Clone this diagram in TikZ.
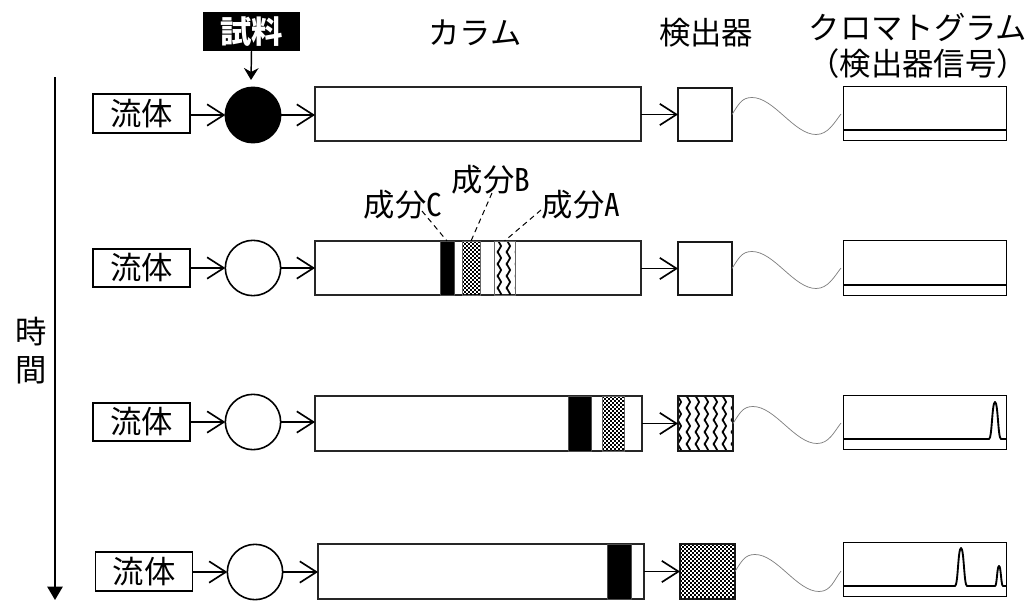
\documentclass[tikz,border=0pt]{standalone}
\usepackage{fontspec}
\usetikzlibrary{arrows.meta,patterns}
\newfontfamily\jp{Noto Sans CJK JP}
\newfontfamily\jphw[RawFeature=+hwid]{Noto Sans CJK JP}
\pgfdeclarepatternformonly{zig}{\pgfqpoint{-1pt}{-1pt}}{\pgfqpoint{7.75pt}{10pt}}{\pgfqpoint{6.75pt}{9pt}}{%
  \pgfsetlinewidth{1.3pt}%
  \pgfpathmoveto{\pgfqpoint{2pt}{-1pt}}%
  \pgfpathlineto{\pgfqpoint{2pt}{0pt}}%
  \pgfpathlineto{\pgfqpoint{4.6pt}{4.5pt}}%
  \pgfpathlineto{\pgfqpoint{2pt}{9pt}}%
  \pgfpathlineto{\pgfqpoint{2pt}{10pt}}%
  \pgfusepath{stroke}}
\newcommand{\rnode}[6]{% name,x1,y1,x2,y2,style
  \node[#6,minimum width={(#4-#2)*0.75pt},minimum height={(#5-#3)*0.75pt}] (#1) at ({(#2+#4)/2},{(#3+#5)/2}) {};}
\newcommand{\checker}[4]{% x1,y1,x2,y2: rows of two-pixel squares
  \begin{scope}
    \clip (#1,#2) rectangle (#3,#4);
    \foreach \rw in {0,...,28}{
      \pgfmathsetmacro{\ry}{#2+1+2*\rw}
      \pgfmathsetmacro{\ph}{mod(\rw,2)*1.5}
      \draw[line width=1.5pt,black,dash pattern=on 1.5pt off 1.5pt,dash phase=\ph pt] (#1,\ry) -- (#3,\ry);
    }
  \end{scope}}
\newcommand{\wavepath}[2]{%
  \draw[wave] (#1.east) .. controls +(7,-11) and +(-10,0) .. ++(20,-17)
    .. controls +(22,0) and +(-22,0) .. ++(64,37)
    .. controls +(12,0) and +(-7,9) .. (#2);}
\tikzset{
  every node/.style={inner sep=0pt,outer sep=0pt},
  txt/.style={font=\jp\fontsize{23.5pt}{25pt}\selectfont},
  fluid/.style={draw=black,line width=1.3pt,fill=white,rectangle,txt,minimum width=72.75pt,minimum height=29pt},
  samp/.style={circle,draw=black,line width=1.2pt,fill=white,minimum size=41.5pt},
  colbox/.style={rectangle,draw=black!85,line width=1.3pt,fill=white},
  det/.style={rectangle,draw=black!90,line width=1.4pt},
  chrom/.style={rectangle,draw=black,line width=0.75pt,fill=white},
  bandblack/.style={rectangle,draw=black!70,line width=0.6pt,fill=black},
  bandline/.style={rectangle,draw=black!60,line width=0.75pt},
  bandzig/.style={rectangle,draw=black!60,line width=0.75pt,pattern=zig},
  flow/.style={draw=black,line width=1.25pt,-{Straight Barb[length=12.5pt,width=16pt,line width=1.25pt]}},
  wave/.style={draw=black!50,line width=0.55pt},
  signal/.style={draw=black,line width=1.4pt,line join=round},
  leader/.style={draw=black,line width=0.75pt,dash pattern=on 4pt off 3pt},
}
\begin{document}
\begin{tikzpicture}[x=0.75pt,y=-0.75pt]
\useasboundingbox (0,0) rectangle (1035,600);
% titles
\node[txt] (tcol) at (475,33) {カラム};
\node[txt] (tdet) at (706,33) {検出器};
\node[txt] (tchr) at (918,27) {クロマトグラム};
\node[txt] (tchr2) at (918,64) {（検出器信号）};
% time
\node[txt] (t1) at (31,332) {時};
\node[txt] (t2) at (31,370) {間};
\coordinate (ts) at (55,77);
\coordinate (te) at (55,600);
\draw[line width=1.1pt,-{Triangle[length=10pt,width=11.5pt]}] (ts) -- (te);
% sample
\node[fill=black,text=white,font=\jp\bfseries\fontsize{23.5pt}{25pt}\selectfont,minimum width=72.5pt,minimum height=29pt] (samp) at (251.5,31.5) {試料};
\coordinate (sampend) at (251,80);
\draw[line width=1.1pt,-{Stealth[length=9pt,width=11pt,inset=3pt]}] (samp.south) -- (sampend);
% row 1
\node[fluid,line width=1.6pt] (f1) at (141.5,113.5) {流体};
\node[samp,fill=black] (c1) at (253,115) {};
\rnode{col1}{315}{87}{641}{141}{colbox}
\rnode{d1}{678}{88}{732}{141}{det,fill=white}
\rnode{ch1}{843}{86}{1006}{140}{chrom}
\coordinate (w1) at (841,114);
\draw[flow] (f1.east |- c1) -- (c1.west);
\draw[flow] (c1.east) -- (c1.east -| col1.west);
\draw[flow] (col1.east |- d1) -- (d1.west);
\wavepath{d1}{w1}
\draw[signal] (843,130) -- (1006,130);
% row 2
\node[fluid] (f2) at (141.5,268) {流体};
\node[samp] (c2) at (253,268) {};
\rnode{col2}{315}{241}{641}{295}{colbox}
\rnode{bC}{440}{241}{454}{295}{bandblack}
\checker{462}{241}{480}{295}
\rnode{bB}{462}{241}{480}{295}{bandline}
\rnode{bA}{494}{241}{515}{295}{bandzig}
\rnode{d2}{678}{242}{732}{295}{det,fill=white}
\rnode{ch2}{843}{240}{1006}{295}{chrom}
\coordinate (w2) at (841,268);
\draw[flow] (f2.east |- c2) -- (c2.west);
\draw[flow] (c2.east) -- (c2.east -| col2.west);
\draw[flow] (col2.east |- d2) -- (d2.west);
\wavepath{d2}{w2}
\draw[signal] (843,285) -- (1006,285);
\node[txt] (lC) at (403,205) {成分{\jphw C}};
\node[txt] (lB) at (491,180) {成分{\jphw B}};
\node[txt] (lA) at (581,205) {成分{\jphw A}};
\coordinate (lCe) at (422,211);
\coordinate (lBe) at (492,193);
\coordinate (lAe) at (541,210);
\draw[leader] (lCe) -- (bC.north);
\draw[leader] (lBe) -- (bB.north);
\draw[leader] (lAe) -- (bA.north);
% row 3
\node[fluid] (f3) at (141.5,422) {流体};
\node[samp] (c3) at (253,422) {};
\rnode{col3}{315}{396}{642}{451}{colbox}
\rnode{bC3}{568}{396}{591}{451}{bandblack}
\checker{602}{396}{624}{451}
\rnode{bB3}{602}{396}{624}{451}{bandline}
\rnode{d3}{678}{396}{733}{451}{det,pattern=zig}
\rnode{ch3}{843}{395}{1006}{449}{chrom}
\coordinate (w3) at (841,423);
\draw[flow] (f3.east |- c3) -- (c3.west);
\draw[flow] (c3.east) -- (c3.east -| col3.west);
\draw[flow] (col3.east |- d3) -- (d3.west);
\wavepath{d3}{w3}
\draw[signal] (843,439) -- (989,439) .. controls (992,439) and (992,402) .. (995,402) .. controls (998,402) and (998,439) .. (1001,439) -- (1006,439);
% row 4
\node[fluid] (f4) at (144,571.5) {流体};
\node[samp] (c4) at (255,572) {};
\rnode{col4}{318}{544}{644}{599}{colbox}
\rnode{bC4}{607}{544}{631}{599}{bandblack}
\checker{680}{544}{735}{599}
\rnode{d4}{680}{544}{735}{599}{det}
\rnode{ch4}{843}{542}{1006}{596}{chrom}
\coordinate (w4) at (841,571);
\draw[flow] (f4.east |- c4) -- (c4.west);
\draw[flow] (c4.east) -- (c4.east -| col4.west);
\draw[flow] (col4.east |- d4) -- (d4.west);
\wavepath{d4}{w4}
\draw[signal] (843,586) -- (955,586) .. controls (958,586) and (958,548) .. (961,548) .. controls (964,548) and (964,586) .. (967,586) -- (995,586) .. controls (997,586) and (997,566) .. (999,566) .. controls (1001,566) and (1001,586) .. (1003,586) -- (1006,586);
\end{tikzpicture}
\end{document}
